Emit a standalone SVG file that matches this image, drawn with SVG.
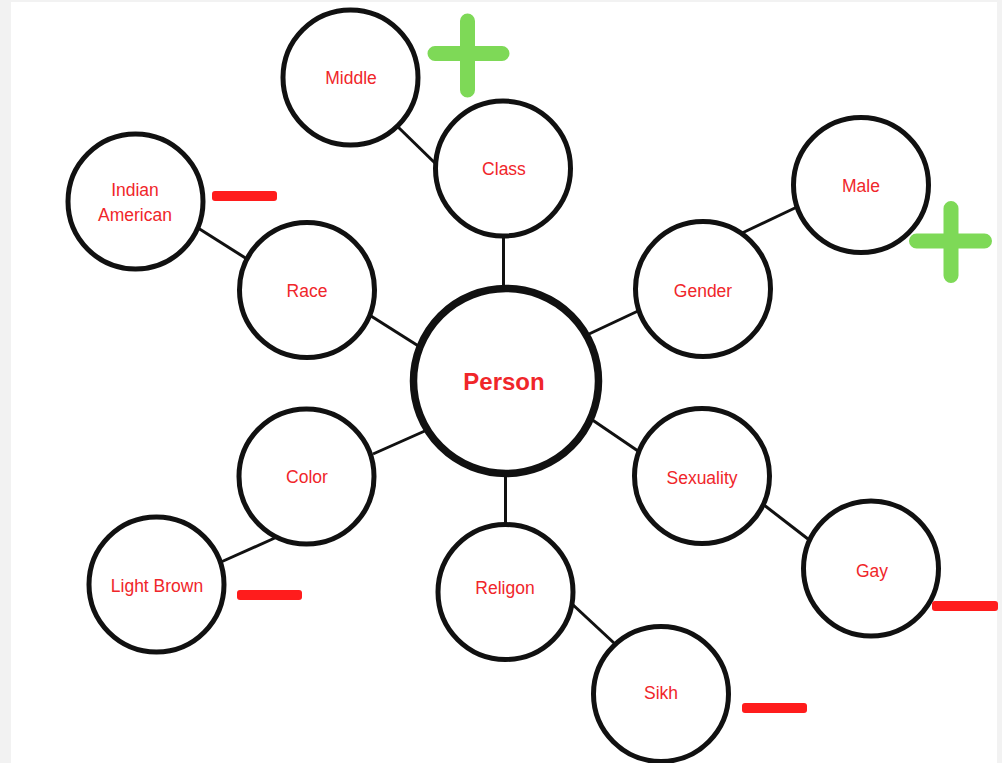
<svg xmlns="http://www.w3.org/2000/svg" width="1002" height="763" viewBox="0 0 1002 763">
<style>
.bg{fill:#f2f2f2}
.node{fill:#fff;stroke:#111;stroke-width:5}
.main{fill:#fff;stroke:#111;stroke-width:7.5}
.lbl{font-family:"Liberation Sans",Arial,sans-serif;font-size:17.5px;fill:#f0262a;text-anchor:middle}
.big{font-family:"Liberation Sans",Arial,sans-serif;font-size:24px;font-weight:bold;fill:#f0262a;text-anchor:middle}
.edge{stroke:#111;stroke-width:3;fill:none}
.plus{stroke:#7ed957;stroke-width:15;stroke-linecap:round;fill:none}
.minus{fill:#ff1c1c}
</style>
<rect class="bg" x="0" y="0" width="1002" height="763"/>
<rect x="11" y="2" width="986" height="761" fill="#fff"/>
<g id="connectors">
<line class="edge" x1="503.5" y1="236" x2="503.5" y2="293"/>
<line class="edge" x1="396" y1="125" x2="438" y2="166"/>
<line class="edge" x1="198" y1="228" x2="247" y2="259"/>
<line class="edge" x1="371" y1="316" x2="420" y2="347"/>
<line class="edge" x1="638" y1="311" x2="589" y2="334"/>
<line class="edge" x1="797" y1="207" x2="740" y2="234"/>
<line class="edge" x1="373" y1="454" x2="427" y2="430"/>
<line class="edge" x1="221" y1="562" x2="277" y2="537"/>
<line class="edge" x1="505.5" y1="467" x2="505.5" y2="523"/>
<line class="edge" x1="571" y1="603" x2="614" y2="643"/>
<line class="edge" x1="591" y1="419" x2="638" y2="451"/>
<line class="edge" x1="764" y1="505" x2="808" y2="539"/>
</g>
<g id="person"><circle class="main" cx="506" cy="381" r="92.5"/><text class="big" x="504" y="390">Person</text></g>
<g id="class"><circle class="node" cx="503" cy="168.5" r="67.5"/><text class="lbl" x="504" y="175">Class</text></g>
<g id="middle"><circle class="node" cx="350.5" cy="77.5" r="67.5"/><text class="lbl" x="351" y="84">Middle</text></g>
<g id="race"><circle class="node" cx="307" cy="290" r="67.5"/><text class="lbl" x="307" y="297">Race</text></g>
<g id="indian-american"><circle class="node" cx="135.5" cy="201.5" r="67.5"/><text class="lbl" x="135" y="196">Indian</text><text class="lbl" x="135" y="221">American</text></g>
<g id="gender"><circle class="node" cx="703" cy="289" r="67.5"/><text class="lbl" x="703" y="297">Gender</text></g>
<g id="male"><circle class="node" cx="861" cy="185" r="67.5"/><text class="lbl" x="861" y="192">Male</text></g>
<g id="color"><circle class="node" cx="306.5" cy="476.5" r="67.5"/><text class="lbl" x="307" y="483">Color</text></g>
<g id="light-brown"><circle class="node" cx="156.5" cy="584.5" r="67.5"/><text class="lbl" x="157" y="592">Light Brown</text></g>
<g id="religon"><circle class="node" cx="505.5" cy="592" r="67.5"/><text class="lbl" x="505" y="594">Religon</text></g>
<g id="sikh"><circle class="node" cx="661" cy="694" r="67.5"/><text class="lbl" x="661" y="699">Sikh</text></g>
<g id="sexuality"><circle class="node" cx="702" cy="476" r="67.5"/><text class="lbl" x="702" y="484">Sexuality</text></g>
<g id="gay"><circle class="node" cx="871" cy="568.5" r="67.5"/><text class="lbl" x="872" y="577">Gay</text></g>
<g id="signs">
<path class="plus" d="M435 53.5H502M467.5 21V90"/>
<path class="plus" d="M916.5 241H984.5M951 208.5V275.5"/>
<rect class="minus" x="212" y="191" width="65" height="10" rx="3"/>
<rect class="minus" x="237" y="590" width="65" height="10" rx="3"/>
<rect class="minus" x="742" y="703" width="65" height="10" rx="3"/>
<rect class="minus" x="932" y="601" width="66" height="10" rx="3"/>
</g>
</svg>
